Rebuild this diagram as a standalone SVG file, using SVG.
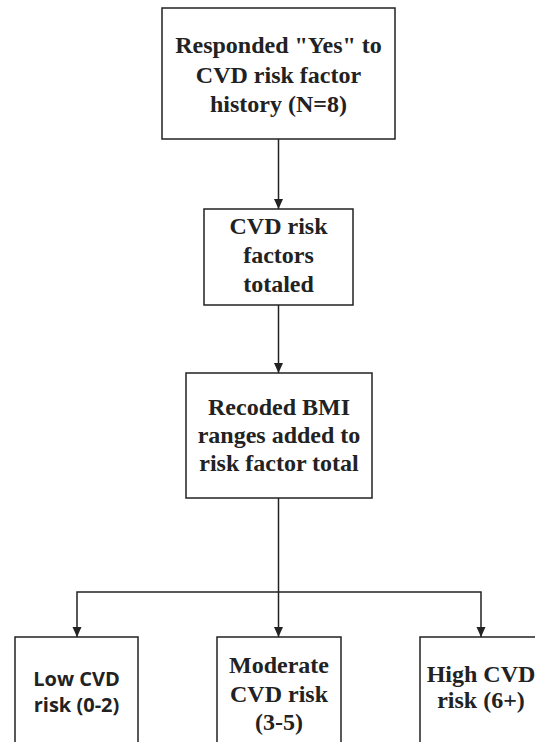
<svg xmlns="http://www.w3.org/2000/svg" width="535" height="742" viewBox="0 0 535 742">
<style>
.box{fill:#fff;stroke:#222;stroke-width:1.5}
.t{font-family:"Liberation Serif","Times New Roman",serif;font-weight:bold;font-size:24px;fill:#222;text-anchor:middle}
.s{font-family:"Open Sans","DejaVu Sans",sans-serif;font-weight:bold;font-size:20px;fill:#222;text-anchor:middle}
.c{fill:none;stroke:#222;stroke-width:1.5}
</style>
<defs>
<marker id="ah" viewBox="0 0 10 10" refX="10" refY="5" markerWidth="10" markerHeight="10" markerUnits="userSpaceOnUse" orient="auto">
<path d="M0,0.5 L10,5 L0,9.5 Z" fill="#222"/>
</marker>
</defs>
<rect width="535" height="742" fill="#fff"/>
<g id="connectors">
<line class="c" x1="278.5" y1="139" x2="278.5" y2="209" marker-end="url(#ah)"/>
<line class="c" x1="278.5" y1="305" x2="278.5" y2="373" marker-end="url(#ah)"/>
<line class="c" x1="278.5" y1="498" x2="278.5" y2="637" marker-end="url(#ah)"/>
<polyline class="c" points="278.5,592 77,592 77,637" marker-end="url(#ah)"/>
<polyline class="c" points="278.5,592 481,592 481,637" marker-end="url(#ah)"/>
</g>
<g id="n1">
<rect class="box" x="162" y="8" width="233" height="131"/>
<text class="t" x="278.5" y="53">Responded "Yes" to</text>
<text class="t" x="278.5" y="83">CVD risk factor</text>
<text class="t" x="278.5" y="112">history (N=8)</text>
</g>
<g id="n2">
<rect class="box" x="204" y="209" width="149" height="96"/>
<text class="t" x="278.5" y="234">CVD risk</text>
<text class="t" x="278.5" y="263">factors</text>
<text class="t" x="278.5" y="292">totaled</text>
</g>
<g id="n3">
<rect class="box" x="186" y="373" width="186" height="125"/>
<text class="t" x="279" y="415">Recoded BMI</text>
<text class="t" x="279" y="443">ranges added to</text>
<text class="t" x="279" y="471">risk factor total</text>
</g>
<g id="n4">
<rect class="box" x="15" y="637" width="123" height="130"/>
<text class="s" x="76.5" y="686">Low CVD</text>
<text class="s" x="76.5" y="712">risk (0-2)</text>
</g>
<g id="n5">
<rect class="box" x="217" y="637" width="124" height="130"/>
<text class="t" x="279" y="673">Moderate</text>
<text class="t" x="279" y="702">CVD risk</text>
<text class="t" x="279" y="730">(3-5)</text>
</g>
<g id="n6">
<rect class="box" x="420" y="637" width="130" height="130"/>
<text class="t" x="481" y="682">High CVD</text>
<text class="t" x="481" y="708">risk (6+)</text>
</g>
</svg>
